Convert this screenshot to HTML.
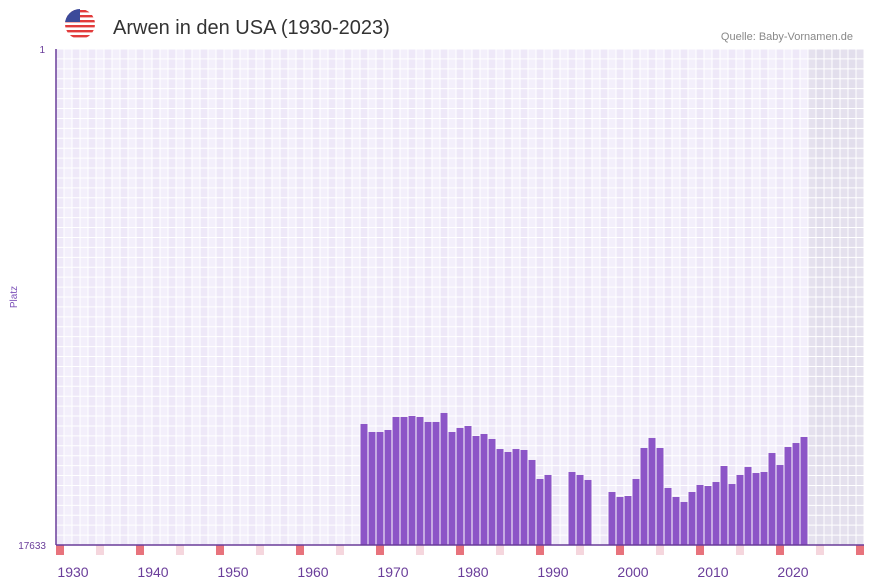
<!DOCTYPE html>
<html><head><meta charset="utf-8"><style>
body{margin:0;background:#fff;font-family:"Liberation Sans",sans-serif;}
svg{display:block}
</style></head><body>
<svg id="chart" width="873" height="587">
<g>
<clipPath id="fc"><circle cx="80" cy="24" r="15"/></clipPath>
<g clip-path="url(#fc)">
<rect x="65" y="9" width="30" height="30" fill="#fff"/>
<rect x="65" y="10" width="30" height="2.4" fill="#e23b3b"/>
<rect x="65" y="15" width="30" height="2.4" fill="#e23b3b"/>
<rect x="65" y="20" width="30" height="2.4" fill="#e23b3b"/>
<rect x="65" y="25" width="30" height="2.4" fill="#e23b3b"/>
<rect x="65" y="30" width="30" height="2.4" fill="#e23b3b"/>
<rect x="65" y="35" width="30" height="2.4" fill="#e23b3b"/>
<rect x="65" y="9" width="15" height="13" fill="#3c4a9a"/>
</g></g>
<text x="113" y="34" font-size="20" fill="#333">Arwen in den USA (1930-2023)</text>
<text x="853" y="40" font-size="11" fill="#888" text-anchor="end">Quelle: Baby-Vornamen.de</text>
<g id="grid"></g><g id="bars"></g><g id="marks"></g><g id="xl"></g>
<line x1="56" y1="49" x2="56" y2="545" stroke="#6a3d9a" stroke-width="1.5"/>
<line x1="56" y1="545" x2="864" y2="545" stroke="#6a3d9a" stroke-width="1.5"/>
<text x="45" y="53" font-size="10" fill="#6a3d9a" text-anchor="end">1</text>
<text x="46" y="549" font-size="10" fill="#6a3d9a" text-anchor="end">17633</text>
<text transform="translate(17,297) rotate(-90)" font-size="10" fill="#7b4fb8" text-anchor="middle">Platz</text>
</svg>
<script>
const years=[1966,1967,1968,1969,1970,1971,1972,1973,1974,1975,1976,1977,1978,1979,1980,1981,1982,1983,1984,1985,1986,1987,1988,1989,1992,1993,1994,1997,1998,1999,2000,2001,2002,2003,2004,2005,2006,2007,2008,2009,2010,2011,2012,2013,2014,2015,2016,2017,2018,2019,2020,2021];
const ranks=[13332,13616,13616,13545,13082,13082,13047,13082,13260,13260,12940,13616,13474,13403,13758,13687,13865,14221,14327,14221,14256,14611,15287,15144,15038,15144,15322,15749,15927,15891,15287,14185,13830,14185,15607,15927,16104,15749,15500,15536,15394,14825,15465,15144,14861,15074,15038,14363,14790,14150,14008,13794];
const xTicks=[1930,1940,1950,1960,1970,1980,1990,2000,2010,2020];
const NS="http://www.w3.org/2000/svg";
const X0=56,W=8,Y0=49,Y1=545,Y0year=1928,maxRank=17633;
const xs=y=>X0+(y-Y0year)*W;
const ys=r=>Y0+(r-1)/(maxRank-1)*(Y1-Y0);
function mk(tag,attrs,parent){const e=document.createElementNS(NS,tag);for(const k in attrs)e.setAttribute(k,attrs[k]);document.getElementById(parent).appendChild(e);return e;}
for(let i=0;i<101;i++){
 const yr=Y0year+i;const fut=yr>=2022;
 const c=mk('rect',{x:X0+i*W,y:Y0,width:W,height:Y1-Y0,fill:fut?(i%2?'#e2deec':'#e5e1ee'):(i%2?'#f3effb':'#eee8f8')},'grid');
 
 
 if(yr%10===8||yr%10===3){
  const m=mk('rect',{x:X0+i*W,y:545,width:W,height:10,fill:yr%10===8?'#e8737c':'#f5d6dd'},'marks');
  
  
 }
}
for(let j=0;j<=50;j++){const y=Y0+j*(Y1-Y0)/50;mk('line',{x1:X0,x2:864,y1:y,y2:y,stroke:'#fff','stroke-width':1},'grid');}
for(let i=0;i<=101;i++){mk('line',{x1:X0+i*W,x2:X0+i*W,y1:Y0,y2:Y1,stroke:'#fff','stroke-width':1},'grid');}
years.forEach((yr,i)=>{
 const t=ys(ranks[i]);
 const b=mk('rect',{x:xs(yr)+0.5,y:t,width:W-1,height:Y1-t,fill:'#8c55c7'},'bars');
 
 
});
xTicks.forEach(yr=>{
 const t=mk('text',{x:xs(yr)+1,y:577,'font-size':14,fill:'#6a3d9a','text-anchor':'middle'},'xl');
 t.textContent=yr;
 
 
});
</script>
</body></html>
